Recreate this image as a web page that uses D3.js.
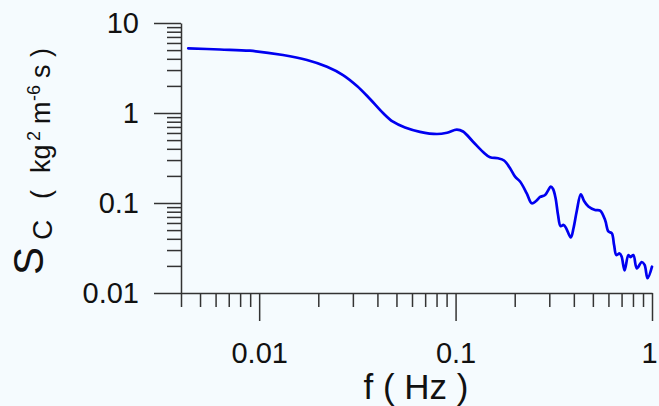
<!DOCTYPE html>
<html>
<head>
<meta charset="utf-8">
<script src="https://cdn.jsdelivr.net/npm/d3@7"></script>
<style>
  html, body { margin: 0; padding: 0; background: #f5fbfe; }
  svg { display: block; }
  text { font-family: "Liberation Sans", Arial, sans-serif; }
</style>
</head>
<body>
<svg id="chart" width="659" height="406"></svg>
<script>
// Spectral density of concentration, S_C(f)
const freq = [
  0.004355, 0.006316, 0.008977, 0.01322, 0.01751, 0.02215, 0.02672, 0.03149,
  0.03667, 0.04271, 0.04801, 0.05528, 0.06588, 0.08042, 0.09048, 0.1014,
  0.1091, 0.1227, 0.1380, 0.1498, 0.1645, 0.1765, 0.1894, 0.2009,
  0.2129, 0.2303, 0.2443, 0.2569, 0.2693, 0.2855, 0.2957, 0.3052,
  0.3135, 0.3228, 0.3324, 0.3423, 0.3546, 0.3651, 0.3859, 0.3987,
  0.4140, 0.4339, 0.4510, 0.4744, 0.5131, 0.5441, 0.5770, 0.5997,
  0.6242, 0.6412, 0.6587, 0.6839, 0.7002, 0.7253, 0.7583, 0.7780,
  0.8039, 0.8367, 0.8872, 0.9169, 0.9495, 1.0
];
const spectrum = [
  5.235, 5.077, 4.922, 4.410, 3.880, 3.269, 2.643, 1.995,
  1.431, 1.000, 0.800, 0.690, 0.618, 0.584, 0.604, 0.652,
  0.623, 0.480, 0.369, 0.322, 0.314, 0.2967, 0.2430, 0.1960,
  0.1734, 0.1282, 0.0992, 0.1052, 0.1166, 0.1227, 0.1377, 0.1526,
  0.1431, 0.1137, 0.0736, 0.0555, 0.0570, 0.0528, 0.0414, 0.0528,
  0.0815, 0.1249, 0.1052, 0.0914, 0.0836, 0.0821, 0.0647, 0.0483,
  0.0461, 0.0341, 0.0264, 0.0275, 0.0254, 0.0178, 0.0264, 0.0251,
  0.0264, 0.0188, 0.0221, 0.0205, 0.0146, 0.0196
];

const xMajor = [0.01, 0.1, 1];
const xMajorLabels = ["0.01", "0.1", "1"];
const xMinor = [0.004, 0.005, 0.006, 0.007, 0.008, 0.009,
                0.02, 0.03, 0.04, 0.05, 0.06, 0.07, 0.08, 0.09,
                0.2, 0.3, 0.4, 0.5, 0.6, 0.7, 0.8, 0.9];
const yMajor = [0.01, 0.1, 1, 10];
const yMajorLabels = ["0.01", "0.1", "1", "10"];
const yMinor = [0.02, 0.03, 0.04, 0.05, 0.06, 0.07, 0.08, 0.09,
                0.2, 0.3, 0.4, 0.5, 0.6, 0.7, 0.8, 0.9,
                2, 3, 4, 5, 6, 7, 8, 9];

const svg = d3.select("#chart");
const W = 659, H = 406;
const plotLeft = 181, plotRight = 652, plotTop = 23, plotBottom = 293;

svg.append("rect").attr("width", W).attr("height", H).attr("fill", "#f5fbfe");

const x = d3.scaleLog().domain([0.004, 1]).range([plotLeft, plotRight]);
const y = d3.scaleLog().domain([0.01, 10]).range([plotBottom, plotTop]);

const axisColor = "#333";
function styleAxis(g) {
  g.selectAll("path.domain").attr("stroke", axisColor).attr("stroke-width", 1.5);
  g.selectAll(".tick line").attr("stroke", axisColor).attr("stroke-width", 1.5);
  g.selectAll(".tick text")
    .attr("fill", "#111")
    .style("font-size", "29px")
    .style("font-family", "'Liberation Sans', Arial, sans-serif");
}

// x axis: minor then major ticks
svg.append("g")
  .attr("transform", `translate(0,${plotBottom})`)
  .call(d3.axisBottom(x).tickValues(xMinor).tickSize(14).tickSizeOuter(0).tickFormat(""))
  .call(g => g.select("path.domain").remove())
  .call(styleAxis);
svg.append("g")
  .attr("transform", `translate(0,${plotBottom})`)
  .call(d3.axisBottom(x).tickValues(xMajor).tickSize(28).tickSizeOuter(0).tickPadding(21)
        .tickFormat((d, i) => xMajorLabels[i]))
  .call(styleAxis)
  // keep the label at the right end inside the page
  .call(g => g.selectAll(".tick text").filter(d => d === 1).attr("dx", -3));

// y axis: minor then major ticks
svg.append("g")
  .attr("transform", `translate(${plotLeft},0)`)
  .call(d3.axisLeft(y).tickValues(yMinor).tickSize(14).tickSizeOuter(0).tickFormat(""))
  .call(g => g.select("path.domain").remove())
  .call(styleAxis);
svg.append("g")
  .attr("transform", `translate(${plotLeft},0)`)
  .call(d3.axisLeft(y).tickValues(yMajor).tickSize(27).tickSizeOuter(0).tickPadding(15)
        .tickFormat((d, i) => yMajorLabels[i]))
  .call(styleAxis);

// spectrum curve
const line = d3.line()
  .x((d, i) => x(freq[i]))
  .y(d => y(d))
  .curve(d3.curveCatmullRom.alpha(0.5));

svg.append("path")
  .datum(spectrum)
  .attr("d", line)
  .attr("fill", "none")
  .attr("stroke", "#0000f0")
  .attr("stroke-width", 2.7)
  .attr("stroke-linejoin", "round")
  .attr("stroke-linecap", "round");

// x axis title
svg.append("text")
  .attr("x", 416)
  .attr("y", 399)
  .attr("text-anchor", "middle")
  .attr("fill", "#111")
  .style("font-size", "35px")
  .text("f ( Hz )");

// y axis title: S_C (kg^2 m^-6 s)
const yt = svg.append("text")
  .attr("transform", "translate(43,275) rotate(-90)")
  .attr("fill", "#111");
yt.append("tspan").attr("x", 0).attr("y", 0).style("font-size", "42px").text("S");
yt.append("tspan").attr("x", 35).attr("y", 8.5).style("font-size", "28px").text("C");
yt.append("tspan").attr("x", 76).attr("y", 7).style("font-size", "27px").text("(");
yt.append("tspan").attr("x", 102).attr("y", 7).style("font-size", "27px").text("kg");
yt.append("tspan").attr("x", 134).attr("y", -3).style("font-size", "18px").text("2");
yt.append("tspan").attr("x", 151).attr("y", 7).style("font-size", "27px").text("m");
yt.append("tspan").attr("x", 174).attr("y", -3).style("font-size", "18px").text("-6");
yt.append("tspan").attr("x", 197).attr("y", 7).style("font-size", "27px").text("s");
yt.append("tspan").attr("x", 218).attr("y", 7).style("font-size", "27px").text(")");
</script>
</body>
</html>
